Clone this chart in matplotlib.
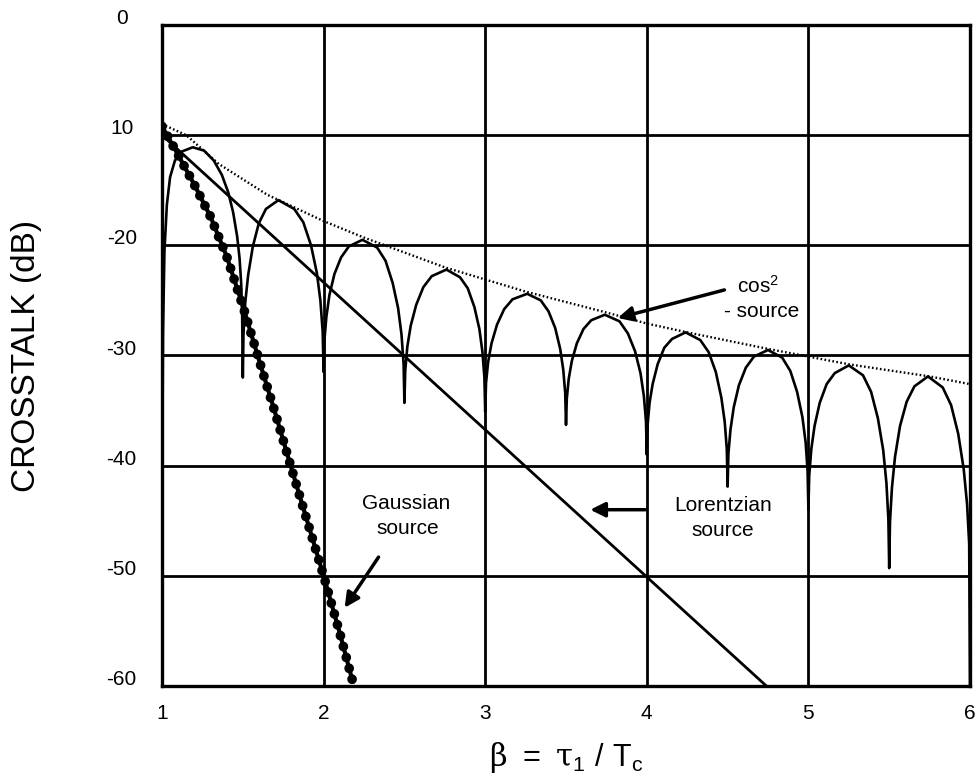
import matplotlib
matplotlib.use("Agg")
import matplotlib.pyplot as plt
import matplotlib.transforms as mtransforms

plt.rcParams['font.family'] = ['Liberation Sans', 'DejaVu Sans']
plt.rcParams['mathtext.fontset'] = 'custom'
plt.rcParams['mathtext.rm'] = 'Liberation Sans'
plt.rcParams['mathtext.it'] = 'DejaVu Serif'

# --- data ------------------------------------------------------------------
# cos^2 source: lobes between nulls at every half step of beta
cos2_x = [1.0, 1.002, 1.006, 1.015, 1.03, 1.05, 1.08, 1.12, 1.19, 1.26, 1.32, 1.37, 1.41,
          1.44, 1.465, 1.48, 1.49, 1.496,
          1.5, 1.504, 1.515, 1.533, 1.562, 1.599, 1.643, 1.72, 1.818, 1.874, 1.922, 1.958, 1.980, 1.994,
          2.0, 2.005, 2.017, 2.036, 2.067, 2.108, 2.156, 2.24, 2.331, 2.383, 2.427, 2.461, 2.482, 2.495,
          2.5, 2.505, 2.518, 2.539, 2.573, 2.617, 2.669, 2.76, 2.844, 2.892, 2.933, 2.964, 2.983, 2.995,
          3.0, 3.005, 3.018, 3.039, 3.073, 3.117, 3.169, 3.26, 3.344, 3.392, 3.433, 3.464, 3.483, 3.495,
          3.5, 3.505, 3.517, 3.536, 3.567, 3.608, 3.656, 3.74, 3.831, 3.883, 3.927, 3.961, 3.982, 3.995,
          4.0, 4.005, 4.017, 4.036, 4.067, 4.108, 4.156, 4.24, 4.331, 4.383, 4.427, 4.461, 4.482, 4.495,
          4.5, 4.505, 4.518, 4.538, 4.57, 4.613, 4.663, 4.75, 4.838, 4.888, 4.93, 4.963, 4.983, 4.995,
          5.0, 5.005, 5.018, 5.038, 5.07, 5.113, 5.163, 5.25, 5.338, 5.388, 5.43, 5.463, 5.483, 5.495,
          5.5, 5.505, 5.517, 5.536, 5.567, 5.608, 5.656, 5.74, 5.831, 5.883, 5.927, 5.961, 5.982, 5.995,
          6.0]
cos2_y = [-60.0, -40.0, -28.0, -20.5, -16.3, -13.8, -12.3, -11.5, -11.1, -11.4, -12.3, -13.6, -15.2,
          -17.0, -19.2, -21.2, -23.5, -26.5,
          -32.0, -28.1, -25.2, -22.7, -20.1, -18.0, -16.7, -15.9, -16.7, -17.9, -20.0, -22.5, -25.0, -27.8,
          -31.5, -28.6, -26.5, -24.5, -22.6, -21.1, -20.1, -19.5, -20.2, -21.4, -23.4, -25.7, -28.1, -30.8,
          -34.3, -31.4, -29.2, -27.3, -25.4, -23.8, -22.8, -22.2, -22.9, -23.9, -25.6, -27.6, -29.7, -32.0,
          -35.1, -32.5, -30.6, -28.9, -27.2, -25.8, -24.9, -24.4, -25.0, -26.0, -27.5, -29.4, -31.3, -33.4,
          -36.3, -33.9, -32.1, -30.5, -28.9, -27.6, -26.8, -26.3, -26.9, -28.0, -29.6, -31.6, -33.7, -36.0,
          -39.0, -36.3, -34.3, -32.6, -30.8, -29.3, -28.5, -27.9, -28.6, -29.7, -31.5, -33.8, -36.0, -38.5,
          -41.9, -38.9, -36.7, -34.7, -32.7, -31.1, -30.1, -29.5, -30.2, -31.4, -33.3, -35.6, -37.9, -40.5,
          -44.0, -40.9, -38.5, -36.4, -34.3, -32.6, -31.6, -30.9, -31.8, -33.3, -35.7, -38.6, -41.6, -44.9,
          -49.3, -45.1, -42.0, -39.2, -36.4, -34.2, -32.8, -31.9, -32.9, -34.5, -37.1, -40.3, -43.5, -47.1,
          -60.0]

# envelope of the cos^2 lobes (dotted)
env_x = [1.0, 1.15, 1.35, 1.65, 2.0, 2.25, 2.75, 3.25, 3.75, 4.0, 4.25, 4.75, 5.0, 5.25, 5.75, 6.0]
env_y = [-9.0, -10.0, -12.6, -15.4, -17.8, -19.3, -22.0, -24.2, -26.1, -27.1, -27.9, -29.4,
         -30.1, -30.8, -31.9, -32.6]

# Lorentzian source
lor_x = [1.0, 4.74]
lor_y = [-10.0, -60.0]

# Gaussian source
gau_x = [1.0, 1.1, 1.2, 1.3, 1.4, 1.5, 1.6, 1.7, 1.8, 1.9, 2.0, 2.1, 2.18]
gau_y = [-9.2, -11.8, -14.5, -17.4, -21.0, -25.5, -30.4, -35.2, -40.2, -45.1, -50.0, -55.2, -59.6]

x_ticks = [1, 2, 3, 4, 5, 6]
y_ticks = [0, -10, -20, -30, -40, -50, -60]
y_ticklabels = ["0", "10", "-20", "-30", "-40", "-50", "-60"]

# --- figure -----------------------------------------------------------------
fig = plt.figure(figsize=(9.79, 7.76), dpi=100, facecolor='white')
ax = fig.add_axes([0.1655, 0.116, 0.8253, 0.8518])

ax.plot(cos2_x, cos2_y, color='black', lw=1.9, solid_joinstyle='round')
ax.plot(env_x, env_y, color='black', lw=1.7, linestyle=(0, (0.7, 1.0)))
ax.plot(lor_x, lor_y, color='black', lw=2.0)
# Gaussian: a chain of beads along a line
ax.plot(gau_x, gau_y, color='black', lw=3.0)
ax.plot(gau_x, gau_y, color='black', lw=7.0, linestyle=(0, (0.01, 1.15)),
        dash_capstyle='round')

ax.set_xlim(1, 6)
ax.set_ylim(-60, 0)
ax.set_xticks(x_ticks)
ax.set_yticks(y_ticks)
ax.set_yticklabels(y_ticklabels)
ax.grid(True, color='black', lw=2.0)
ax.set_axisbelow(True)
for s in ax.spines.values():
    s.set_linewidth(2.4)
ax.tick_params(length=0, labelsize=15)
ax.tick_params(axis='x', pad=13)
ax.tick_params(axis='y', pad=29)
shift = mtransforms.ScaledTranslation(0, 6 / 72, fig.dpi_scale_trans)
for lab in ax.get_yticklabels():
    lab.set_horizontalalignment('center')
    lab.set_transform(lab.get_transform() + shift)

ax.set_ylabel("CROSSTALK (dB)", fontsize=24)
ax.yaxis.set_label_coords(-0.148, 0.5)
ax.set_xlabel(r"$\beta\ =\ \tau_{1}\ /\ \mathrm{T}_{\mathrm{c}}$", fontsize=22, labelpad=12)

# annotations
ax.text(4.56, -23.7, r"cos$^{2}$", fontsize=15, va='center', ha='left')
ax.text(4.48, -26.0, "- source", fontsize=15, va='center', ha='left')
ax.annotate("", xy=(3.82, -26.6), xytext=(4.48, -24.05),
            arrowprops=dict(arrowstyle='-|>', color='black', lw=2.5,
                            mutation_scale=22, shrinkA=0, shrinkB=0))

ax.text(4.47, -43.6, "Lorentzian", fontsize=15, va='center', ha='center')
ax.text(4.47, -45.9, "source", fontsize=15, va='center', ha='center')
ax.annotate("", xy=(3.65, -44.0), xytext=(3.99, -44.0),
            arrowprops=dict(arrowstyle='-|>', color='black', lw=2.5,
                            mutation_scale=22, shrinkA=0, shrinkB=0))

ax.text(2.51, -43.4, "Gaussian", fontsize=15, va='center', ha='center')
ax.text(2.52, -45.7, "source", fontsize=15, va='center', ha='center')
ax.annotate("", xy=(2.13, -52.9), xytext=(2.34, -48.3),
            arrowprops=dict(arrowstyle='-|>', color='black', lw=2.5,
                            mutation_scale=22, shrinkA=0, shrinkB=0))

fig.savefig("out.png", dpi=100)
